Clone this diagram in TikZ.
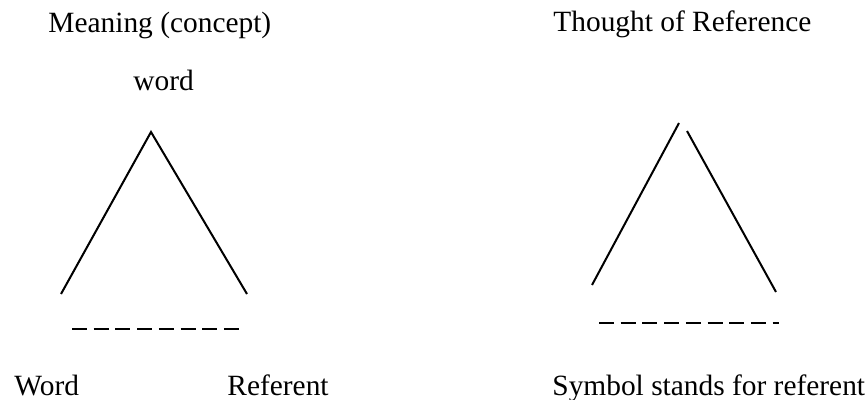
\documentclass[tikz,border=0pt]{standalone}
\usepackage{fontspec}
\setmainfont{Liberation Serif}
\usepackage{tikz}
\usetikzlibrary{positioning}

\begin{document}
\begin{tikzpicture}[
          x=0.5pt, y=-0.5pt,
          lbl/.style={anchor=base west, inner sep=0pt,
              font=\fontsize{14.7pt}{17pt}\selectfont},
          side/.style={line width=1pt},
          base/.style={line width=1pt, dash pattern=on 7.5pt off 3.35pt}
        ]
        \useasboundingbox (0,0) rectangle (866,400);
        % labels
        \node[lbl] (meaning)  at (48,33)   {Meaning (concept)};
        \node[lbl] (thought)  at (553,32)  {Thought of Reference};
        \node[lbl] (wordtop)  at (133,91)  {word};
        \node[lbl] (word)     at (14,395)  {Word};
        \node[lbl] (referent) at (227,395) {Referent};
        \node[lbl] (symbol)   at (552,395) {Symbol stands for referent};
        % left triangle
        \coordinate (lapex)  at (151,132);
        \coordinate (lleft)  at (61,294);
        \coordinate (lright) at (247,294);
        \coordinate (ldashl) at (72,329);
        \coordinate (ldashr) at (241,329);
        \draw[side] (lleft) -- (lapex) -- (lright);
        \draw[base] (ldashl) -- (ldashr);
        % right triangle
        \coordinate (rleft)  at (592,285);
        \coordinate (rtopl)  at (679,123);
        \coordinate (rtopr)  at (687,131);
        \coordinate (rright) at (776,292);
        \coordinate (rdashl) at (599,323);
        \coordinate (rdashr) at (779,323);
        \draw[side] (rleft) -- (rtopl);
        \draw[side] (rtopr) -- (rright);
        \draw[base] (rdashl) -- (rdashr);
      \end{tikzpicture}
\end{document}
